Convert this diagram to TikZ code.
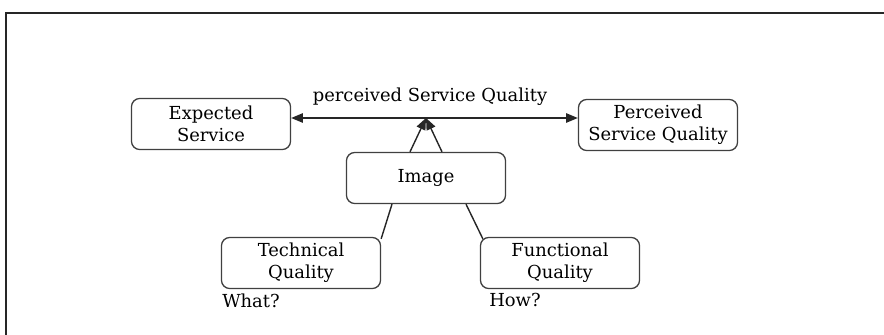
\documentclass[tikz,border=0pt]{standalone}
\usepackage{fontspec}
\setmainfont{DejaVu Serif}
\usetikzlibrary{arrows.meta, positioning, calc}

\begin{document}
\begin{tikzpicture}[x=0.03cm, y=-0.03cm, >={Triangle[length=10pt, width=8pt]},
      font=\fontsize{15.3}{19}\selectfont,
      qbox/.style={rounded corners=7pt, draw=black!75, line width=1.1pt,
                   minimum width=4.77cm, minimum height=1.53cm,
                   align=center, inner sep=2pt},
      link/.style={draw=black!85, line width=1.2pt},
      note/.style={inner sep=1pt}]
    \useasboundingbox (0,0) rectangle (884,335);
    % outer frame, open at right and bottom
    \draw[line width=1.8pt, black!85] (6,13) rectangle (900,350);

    \node[qbox] (exp)  at (211,124) {Expected\\ Service};
    \node[qbox] (perc) at (658,125) {Perceived\\ Service Quality};
    \node[qbox] (img)  at (426,178) {Image};
    \node[qbox] (tech) at (301,263) {Technical\\ Quality};
    \node[qbox] (func) at (560,263) {Functional\\ Quality};

    \coordinate (meet) at (426,118);
    \node (lbl) at (430,97) {perceived Service Quality};

    \draw[link, ->] (meet) -- (meet -| exp.east);
    \draw[link, ->] (meet) -- (meet -| perc.west);
    \draw[link, ->] ($(img.north)+(-16,0)$) -- (meet);
    \draw[link, ->] ($(img.north)+(16,0)$) -- (meet);

    \draw[link] ($(img.south)+(-34,0)$) -- ($(tech.north east)+(0,2)$);
    \draw[link] ($(img.south)+(40,0)$) -- ($(func.north west)+(3,2)$);

    \node[note, anchor=north west] (what) at ($(tech.south west)+(0,3)$) {What?};
    \node[note, anchor=north west] (how)  at ($(func.south west)+(8,3)$) {How?};
\end{tikzpicture}
\end{document}
